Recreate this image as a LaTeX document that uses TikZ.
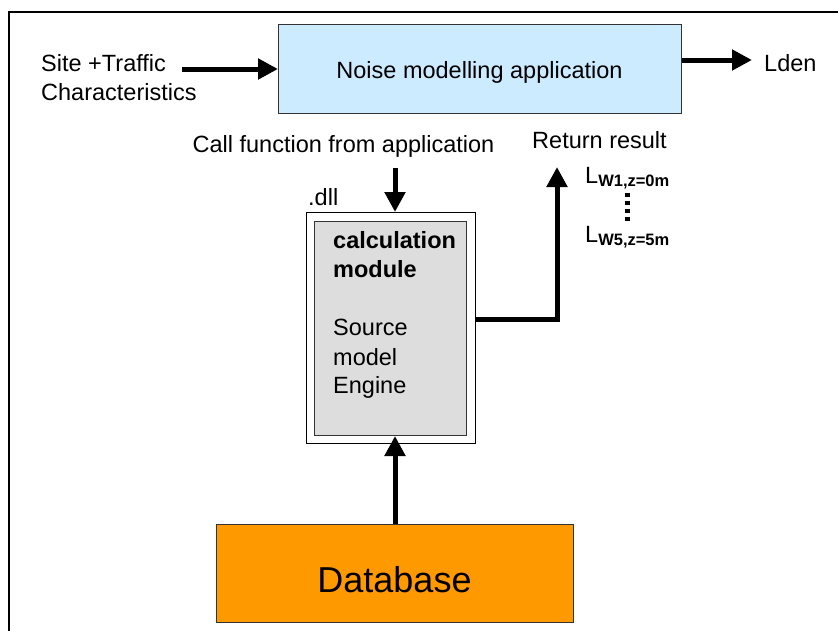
\documentclass[tikz,border=0pt]{standalone}
\usepackage{fontspec}
\setmainfont{Liberation Sans}
\usetikzlibrary{arrows.meta}
\definecolor{appblue}{RGB}{204,235,255}
\definecolor{dbor}{RGB}{255,153,0}
\definecolor{modgrey}{RGB}{221,221,221}
\begin{document}
\begin{tikzpicture}[x=1pt,y=-1pt,
  txt/.style={font=\fontsize{23.5}{29}\selectfont, inner sep=0pt},
  btxt/.style={font=\fontsize{23.5}{29}\selectfont\bfseries, inner sep=0pt},
  flow/.style={line width=5pt, -{Triangle[length=20pt,width=20pt]}},
  box/.style={draw=black!80, line width=1pt, inner sep=0pt, anchor=north west},
  dotline/.style={line width=5pt, dash pattern=on 4pt off 4pt}]
\useasboundingbox (0,0) rectangle (838,630);
% outer frame
\draw[line width=2pt] (9,640) -- (9,12) -- (850,12);
% application box
\node[box, fill=appblue, minimum width=403pt, minimum height=89pt] (app) at (278,24) {};
\node[txt, anchor=base] (apptxt) at (479.5,78) {Noise modelling application};
% input
\node[txt, anchor=base west] (site) at (41,71) {Site +Traffic};
\node[txt, anchor=base west] (charac) at (41,100) {Characteristics};
\coordinate (sin) at (182,69);
\draw[flow] (sin) -- (sin -| app.west);
% output
\node[txt, anchor=base west] (lden) at (764,71) {Lden};
\coordinate (lout) at (752,60);
\draw[flow] (app.east |- lout) -- (lout);
% call function
\node[txt, anchor=base] (call) at (343.5,152) {Call function from application};
% dll module
\node[box, draw=black, fill=white, minimum width=169pt, minimum height=231pt] (dll) at (306,212) {};
\node[box, fill=modgrey, minimum width=152pt, minimum height=214pt] (calc) at (314,221) {};
\node[txt, anchor=base west] (dlltxt) at (308,205) {.dll};
\node[btxt, anchor=base west] (c1) at (333,248) {calculation};
\node[btxt, anchor=base west] (c2) at (333,277) {module};
\node[txt, anchor=base west] (c3) at (333,335) {Source};
\node[txt, anchor=base west] (c4) at (333,365) {model};
\node[txt, anchor=base west] (c5) at (333,393) {Engine};
\coordinate (cf) at (395,168);
\draw[flow] (cf) -- (cf |- dll.north);
% return
\node[txt, anchor=base] (ret) at (599.5,148) {Return result};
\coordinate (rettip) at (557,167);
\draw[flow] ([yshift=8.5pt]dll.east) -| (rettip);
\node[txt, anchor=base west] (lw1) at (585,183) {L\raisebox{-3pt}{\fontsize{16.5}{17}\selectfont\bfseries W1,z=0m}};
\node[txt, anchor=base west] (lw5) at (585,242) {L\raisebox{-3pt}{\fontsize{16.5}{17}\selectfont\bfseries W5,z=5m}};
\draw[dotline] (627,193) -- (627,224);
% database
\node[box, fill=dbor, minimum width=357pt, minimum height=98pt] (db) at (216,524) {};
\node[anchor=base, inner sep=0pt, font=\fontsize{36}{40}\selectfont] (dbtxt) at (394.5,592) {Database};
\draw[flow] (db.north) -- (db.north |- calc.south);
\end{tikzpicture}
\end{document}
